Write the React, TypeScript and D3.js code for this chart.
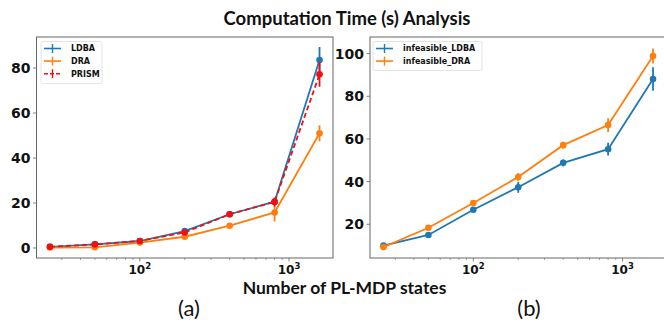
import React from "react";
import * as d3 from "d3";

const statesX = [25, 50, 100, 200, 400, 800, 1600];

const ldbaMean = [0.5, 1.6, 3.1, 7.5, 15.0, 20.6, 83.6];
const ldbaErr = [0.3, 0.3, 0.4, 0.6, 0.8, 1.5, 5.7];
const draMean = [0.2, 0.3, 2.4, 5.0, 9.9, 15.8, 51.0];
const draErr = [0.2, 0.3, 0.4, 0.5, 0.6, 4.0, 3.6];
const prismMean = [0.5, 1.6, 3.1, 6.9, 15.0, 20.5, 77.2];
const prismErr = [0.3, 0.3, 0.4, 0.6, 0.8, 2.0, 5.5];

const infLdbaMean = [10.0, 15.0, 26.8, 37.4, 48.8, 55.2, 88.1];
const infLdbaErr = [0.8, 0.8, 1.0, 2.6, 1.6, 3.0, 5.5];
const infDraMean = [9.3, 18.4, 30.0, 42.2, 57.1, 66.5, 98.9];
const infDraErr = [0.6, 0.8, 1.0, 1.8, 1.6, 3.2, 3.5];

const leftYTicks = [0, 20, 40, 60, 80];
const rightYTicks = [20, 40, 60, 80, 100];
const xMajorTicks = [100, 1000];

const titleText = "Computation Time (s) Analysis";
const xLabelText = "Number of PL-MDP states";

const BLUE = "#1f77b4";
const ORANGE = "#ff7f0e";
const RED = "#ee1111";

type Series = {
  name: string;
  mean: number[];
  err: number[];
  color: string;
  dashed?: boolean;
};

const leftSeries: Series[] = [
  { name: "LDBA", mean: ldbaMean, err: ldbaErr, color: BLUE },
  { name: "DRA", mean: draMean, err: draErr, color: ORANGE },
  { name: "PRISM", mean: prismMean, err: prismErr, color: RED, dashed: true },
];
const rightSeries: Series[] = [
  { name: "infeasible_LDBA", mean: infLdbaMean, err: infLdbaErr, color: BLUE },
  { name: "infeasible_DRA", mean: infDraMean, err: infDraErr, color: ORANGE },
];

const FRAME = "#666";
const TICKFONT = "'DejaVu Sans', sans-serif";
const TEXTFONT = "Lato, 'Open Sans', sans-serif";

function Panel({
  x0, x1, y0, y1, yDomain, yTicks, series, legend,
}: {
  x0: number; x1: number; y0: number; y1: number;
  yDomain: [number, number]; yTicks: number[]; series: Series[];
  legend: { x: number; y: number; w: number; h: number };
}) {
  const lo = Math.log10(statesX[0]);
  const hi = Math.log10(statesX[statesX.length - 1]);
  const m = (hi - lo) * 0.05;
  const xs = d3.scaleLog().domain([Math.pow(10, lo - m), Math.pow(10, hi + m)]).range([x0, x1]);
  const ys = d3.scaleLinear().domain(yDomain).range([y1, y0]);
  const [dMin, dMax] = xs.domain();
  const minor: number[] = [];
  for (let dec = 1; dec <= 4; dec++) {
    for (let k = 2; k <= 9; k++) {
      const v = k * Math.pow(10, dec);
      if (v >= dMin && v <= dMax) minor.push(v);
    }
  }
  const line = d3.line<number>().x((_, i) => xs(statesX[i])).y((d) => ys(d));
  const clipId = `clip-${Math.round(x0)}`;
  return (
    <g>
      <defs>
        <clipPath id={clipId}>
          <rect x={x0} y={y0 - 20} width={x1 - x0} height={y1 - y0 + 40} />
        </clipPath>
      </defs>
      {yTicks.map((t) => (
        <g key={`y${t}`}>
          <line x1={x0 - 3.5} x2={x0} y1={ys(t)} y2={ys(t)} stroke={FRAME} strokeWidth={0.8} />
          <text x={x0 - 6} y={ys(t)} dy="0.36em" textAnchor="end" fontFamily={TICKFONT} fontWeight="bold" fontSize={14} fill="#111">
            {t}
          </text>
        </g>
      ))}
      {minor.map((t) => (
        <line key={`m${t}`} x1={xs(t)} x2={xs(t)} y1={y1} y2={y1 + 2} stroke={FRAME} strokeWidth={0.6} />
      ))}
      {xMajorTicks.map((t) => (
        <g key={`x${t}`}>
          <line x1={xs(t)} x2={xs(t)} y1={y1} y2={y1 + 3.5} stroke={FRAME} strokeWidth={0.8} />
          <text x={xs(t)} y={y1 + 16} textAnchor="middle" fontFamily={TICKFONT} fontWeight="bold" fontSize={12} fill="#111">
            10
            <tspan dy={-5} fontSize={8.5}>{Math.round(Math.log10(t))}</tspan>
          </text>
        </g>
      ))}
      <g clipPath={`url(#${clipId})`}>
        {series.map((s) => (
          <g key={s.name}>
            <path d={line(s.mean) || ""} fill="none" stroke={s.color} strokeWidth={1.8} strokeDasharray={s.dashed ? "5,3" : undefined} />
            {s.mean.map((v, i) => (
              <line key={`e${i}`} x1={xs(statesX[i])} x2={xs(statesX[i])} y1={ys(v - s.err[i])} y2={ys(v + s.err[i])} stroke={s.color} strokeWidth={1.8} />
            ))}
            {s.mean.map((v, i) => (
              <circle key={`c${i}`} cx={xs(statesX[i])} cy={ys(v)} r={3.3} fill={s.color} />
            ))}
          </g>
        ))}
      </g>
      <rect x={x0} y={y0} width={x1 - x0} height={y1 - y0} fill="none" stroke={FRAME} strokeWidth={1} />
      <rect x={legend.x} y={legend.y} width={legend.w} height={legend.h} fill="white" fillOpacity={0.8} stroke="#ddd" strokeWidth={0.8} rx={2} />
      {series.map((s, i) => {
        const cy = legend.y + 7 + i * 12.6;
        const lx = legend.x + 3;
        return (
          <g key={`lg${s.name}`}>
            <line x1={lx} x2={lx + 17} y1={cy} y2={cy} stroke={s.color} strokeWidth={1.6} strokeDasharray={s.dashed ? "4,2" : undefined} />
            <line x1={lx + 8.5} x2={lx + 8.5} y1={cy - 4.5} y2={cy + 4.5} stroke={s.color} strokeWidth={1.4} />
            <text x={lx + 27} y={cy} dy="0.35em" fontFamily={TICKFONT} fontWeight="bold" fontSize={8} fill="#111">
              {s.name}
            </text>
          </g>
        );
      })}
    </g>
  );
}

export default function App() {
  return (
    <svg width={664} height={329} style={{ position: "absolute", left: 0, top: 0, background: "white" }}>
      <rect width={664} height={329} fill="white" />
      <text x={347} y={25} textAnchor="middle" fontFamily={TEXTFONT} fontWeight="bold" fontSize={18.5} fill="#111">
        {titleText}
      </text>
      <Panel x0={36.5} x1={333} y0={37} y1={258} yDomain={[-4.45, 93.8]} yTicks={leftYTicks} series={leftSeries}
        legend={{ x: 41, y: 41.5, w: 61, h: 42 }} />
      <Panel x0={370} x1={666.5} y0={37} y1={258} yDomain={[4.2, 107.8]} yTicks={rightYTicks} series={rightSeries}
        legend={{ x: 373, y: 41.5, w: 109, h: 29 }} />
      <text x={344.5} y={294} textAnchor="middle" fontFamily={TEXTFONT} fontWeight="bold" fontSize={17.5} fill="#111">
        {xLabelText}
      </text>
      <text x={189} y={316} textAnchor="middle" fontFamily={TEXTFONT} fontSize={22} fill="#111">(a)</text>
      <text x={529} y={316} textAnchor="middle" fontFamily={TEXTFONT} fontSize={22} fill="#111">(b)</text>
    </svg>
  );
}
